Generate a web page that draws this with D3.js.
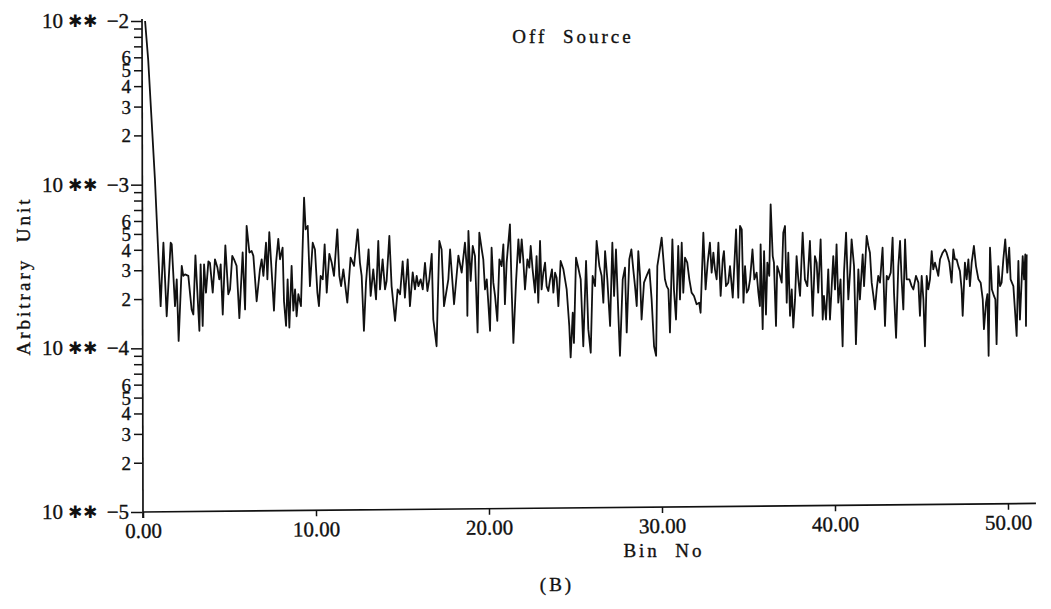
<!DOCTYPE html>
<html><head><meta charset="utf-8">
<script src="https://cdn.jsdelivr.net/npm/d3@7"></script>
<style>body{margin:0;background:#fff}svg{display:block}</style>
</head><body><svg id="c" width="1051" height="609"></svg>
<script>
// Bin positions of the trace vertices
const bins = [
0.12,0.30,0.69,
1.02,1.18,1.37,1.60,1.66,1.85,1.95,2.06,2.24,2.33,2.43,2.62,2.81,2.91,3.03,3.26,3.33,3.45,3.53,3.64,3.78,3.87,4.03,4.16,4.30,4.41,4.49,4.61,4.76,4.93,5.03,5.16,5.26,5.41,5.57,5.76,5.90,5.99,6.15,6.28,6.38,6.57,6.76,6.86,6.96,7.11,7.19,7.30,7.44,7.57,7.69,7.82,7.92,8.07,8.15,8.27,8.36,8.46,8.59,8.69,8.79,8.88,8.98,9.13,9.31,9.40,9.52,9.65,9.81,9.94,10.08,10.17,10.27,10.39,10.50,10.62,10.77,10.91,11.04,11.23,11.35,11.45,11.58,11.81,12.00,12.20,12.41,12.54,12.64,12.77,12.89,13.04,13.16,13.31,13.47,13.60,13.70,13.85,13.99,14.08,14.24,14.37,14.57,14.72,14.86,15.01,15.14,15.30,15.43,15.59,15.72,15.82,15.92,16.05,16.17,16.30,16.44,16.55,16.69,16.78,16.97,17.13,17.26,17.40,17.65,17.75,
17.98,18.23,18.42,18.61,18.71,18.75,18.81,18.94,19.06,19.19,19.34,19.44,19.58,19.67,19.77,19.87,19.96,20.06,20.15,20.25,20.35,20.48,20.60,20.73,20.83,20.92,21.02,21.21,21.31,21.41,21.56,21.70,21.79,21.89,21.98,22.08,22.22,22.33,22.41,22.52,22.66,22.75,22.85,22.95,23.04,23.14,23.24,23.33,23.43,23.53,23.64,23.72,23.82,23.91,24.01,24.14,24.30,24.49,24.64,24.72,24.84,24.91,25.03,25.16,25.30,25.45,25.61,25.74,25.88,25.99,26.13,26.22,26.38,26.51,26.61,26.71,26.84,27.00,27.13,27.23,27.34,27.48,27.57,27.73,27.86,27.96,28.11,28.23,28.34,28.44,28.54,28.63,28.73,28.82,28.96,29.11,29.27,29.40,29.54,29.66,29.73,29.85,29.98,30.08,30.17,30.27,30.37,30.46,30.60,30.69,30.81,30.94,31.04,31.14,31.23,31.33,31.46,31.58,31.71,31.85,32.00,32.15,32.23,32.39,32.52,32.64,32.77,32.87,32.97,33.06,33.16,33.26,33.39,33.51,33.58,33.70,33.83,33.93,34.09,34.16,34.28,34.41,34.51,34.61,34.71,34.80,34.90,35.00,35.09,35.23,35.34,35.47,35.57,35.66,
35.70,35.82,35.90,36.01,36.09,36.20,36.28,36.40,36.47,36.59,36.66,36.78,36.92,37.01,37.11,37.21,37.30,37.40,37.50,37.59,37.69,37.78,37.88,37.98,38.13,38.26,38.40,38.55,38.71,38.84,38.94,39.03,39.17,39.29,39.36,39.48,39.61,39.71,39.80,39.90,40.00,40.09,40.19,40.32,40.44,40.52,40.64,40.77,40.87,40.96,41.10,41.21,41.35,41.44,41.60,41.68,41.83,41.93,42.02,42.12,42.22,42.31,42.41,42.50,42.60,42.75,42.89,42.99,43.08,43.22,43.33,43.41,43.53,43.66,43.76,43.85,43.95,44.05,44.14,44.30,44.43,44.53,44.68,44.82,44.91,45.01,45.11,45.20,45.30,45.39,45.49,45.59,45.68,45.78,45.88,45.97,46.07,46.22,46.35,46.45,46.61,46.74,46.84,46.93,47.03,47.13,47.22,47.32,47.38,47.51,47.61,47.71,47.80,47.90,48.03,48.15,48.29,48.42,48.54,48.61,48.73,48.81,48.88,48.96,49.07,49.19,49.27,49.34,49.44,49.54,49.63,49.73,49.84,49.96,50.07,50.15,50.31,50.40,50.50,50.60,50.69,50.85,50.93,51.00,51.04,51.08
];
// Signal at those bins, in units of 1e-4 (arbitrary unit)
const signal = [
100,58,10.8,
1.81,4.42,1.57,4.42,4.32,1.81,2.64,1.11,3.19,2.77,2.83,2.77,1.73,1.61,3.70,1.28,3.26,1.37,3.26,2.19,3.40,3.33,2.19,3.50,3.12,2.64,3.26,1.61,4.26,2.14,2.29,3.67,3.50,3.19,1.53,3.85,1.73,5.6,3.85,3.93,3.67,1.94,3.04,3.50,2.77,4.42,2.64,5.13,2.91,1.70,3.33,4.67,3.50,4.12,1.94,1.37,2.64,1.34,3.19,1.70,2.29,1.57,2.14,1.81,8.33,5.33,5.6,2.40,4.42,4.02,2.19,1.81,2.77,2.64,4.32,2.19,3.78,3.33,2.77,5.33,2.77,2.40,3.04,1.90,3.58,3.19,5.33,3.33,2.77,1.28,2.52,4.02,2.09,3.04,1.99,4.53,2.29,3.50,2.29,2.58,4.87,2.40,1.47,2.29,2.14,3.40,2.04,3.50,1.81,2.91,2.29,2.77,2.40,2.64,2.29,3.33,2.24,2.64,3.78,1.50,1.03,4.53,4.02,1.81,2.64,4.02,
1.86,3.69,2.90,4.42,3.18,1.58,5.21,2.58,4.22,3.66,1.25,5.09,4.02,3.50,2.29,2.64,1.90,1.28,4.12,2.52,2.09,1.47,3.50,3.18,4.32,1.86,3.34,5.72,2.29,1.08,2.52,4.63,3.34,4.63,3.50,2.29,3.50,3.11,4.22,3.04,2.19,3.66,1.90,4.53,2.29,2.90,3.34,2.40,2.24,2.64,3.04,2.19,2.90,2.70,1.81,3.42,3.04,2.29,1.37,0.88,1.65,1.08,3.58,3.11,2.64,1.03,3.42,1.31,0.94,2.77,2.40,4.53,3.18,2.77,1.90,3.93,2.64,1.37,4.42,2.09,4.02,1.58,0.90,2.64,3.11,1.25,3.50,4.02,3.04,2.40,1.81,3.93,2.77,1.50,2.52,2.77,3.04,1.99,1.03,0.90,3.18,3.84,4.75,3.50,2.64,2.40,2.29,1.25,4.63,2.29,1.50,4.22,1.99,4.42,2.19,3.58,3.34,2.64,2.19,2.09,1.86,1.90,1.65,5.09,2.29,3.34,4.42,2.90,3.84,3.04,2.64,4.42,2.09,3.50,3.93,2.40,2.52,3.18,2.04,2.90,5.33,2.04,5.59,5.33,1.90,3.18,2.19,2.29,2.64,4.02,2.64,2.90,2.19,1.81,
4.32,1.31,3.93,1.61,3.34,2.77,7.58,3.66,3.34,1.37,3.18,2.90,2.52,5.09,5.59,1.90,3.84,1.58,2.29,1.34,1.99,3.66,2.64,2.09,5.09,2.64,2.40,4.53,1.58,3.66,3.34,2.19,4.63,1.50,2.09,1.50,3.04,1.50,2.29,3.66,2.29,4.32,1.90,2.64,1.03,2.90,5.09,1.99,2.90,4.63,3.18,1.06,3.04,1.99,3.75,2.40,4.86,4.22,3.84,2.52,2.09,1.73,2.29,2.77,2.52,4.12,1.37,2.77,2.64,2.90,4.75,2.19,1.16,3.18,4.53,2.64,1.73,4.63,2.64,2.64,2.40,2.29,2.77,2.52,1.58,2.77,1.99,1.03,2.77,2.29,2.64,3.93,3.04,3.34,3.04,2.77,3.50,3.84,4.02,3.84,3.34,2.52,4.02,3.50,3.50,3.18,2.97,2.29,1.58,3.34,2.64,3.50,2.40,3.34,4.22,3.18,2.64,2.52,1.99,1.31,1.90,2.14,0.90,4.12,2.29,2.09,1.99,1.06,3.18,2.40,2.52,3.50,4.63,2.90,4.12,2.64,2.40,1.73,1.19,3.42,1.50,3.66,2.64,3.75,1.37,3.75
];
const UNIT = 1e-4;
const xTicks = [0, 10, 20, 30, 40, 50];
const yDecades = [-5, -4, -3, -2];
const yMinorMultipliers = [2, 3, 4, 5, 6, 7, 8, 9];
const yMinorLabelled = [2, 3, 4, 5, 6];
const titleText = "Off  Source";
const xTitleText = "Bin  No";
const yTitleText = "Arbitrary  Unit";
const captionText = "(B)";

const FONT = "'Liberation Serif','Times New Roman',serif";
const svg = d3.select('#c');
const x = d3.scaleLinear().domain([0, 51.5]).range([143, 143 + 51.5 * 17.3]);
const y = d3.scaleLog().domain([1e-5, 1e-2]).range([512, 21]);
const ink = '#111';

function styleText(sel, size) {
  sel.attr('font-family', FONT).attr('font-size', size).attr('fill', ink)
     .attr('stroke', ink).attr('stroke-width', 0.35);
}

// trace
const pts = bins.map((b, i) => [b, signal[i] * UNIT]);
svg.append('path')
  .attr('d', d3.line().x(d => x(d[0])).y(d => y(d[1]))(pts))
  .attr('fill', 'none').attr('stroke', ink).attr('stroke-width', 1.8)
  .attr('stroke-linejoin', 'round');

// x axis (the scanned figure is tilted very slightly)
const xAxis = d3.axisBottom(x).tickValues(xTicks).tickFormat(d3.format('.2f'))
  .tickSize(6).tickSizeOuter(0).tickPadding(4);
const gxWrap = svg.append('g').attr('transform', 'rotate(-0.55,143,512)');
const gx = gxWrap.append('g').attr('transform', 'translate(0,512)').call(xAxis);
gx.select('.domain').remove();
gx.selectAll('line').attr('stroke', ink).attr('stroke-width', 1.5);
gx.selectAll('text').attr('dy', '0.76em').call(styleText, 21);
gxWrap.append('line').attr('x1', 143).attr('x2', 1036).attr('y1', 512).attr('y2', 512)
  .attr('stroke', ink).attr('stroke-width', 1.7);

// y axis: minor ticks
const minorVals = [];
yDecades.slice(0, -1).forEach(e => yMinorMultipliers.forEach(m => minorVals.push(m * Math.pow(10, e))));
const yMinor = d3.axisLeft(y).tickValues(minorVals)
  .tickFormat(d => {
    const m = Math.round(d / Math.pow(10, Math.floor(Math.log10(d) + 1e-9)));
    return yMinorLabelled.includes(m) ? String(m) : '';
  })
  .tickSize(8).tickSizeOuter(0).tickPadding(3);
const gyMinor = svg.append('g').attr('transform', 'translate(142,0)').call(yMinor);
gyMinor.select('.domain').remove();
gyMinor.selectAll('line').attr('stroke', ink).attr('stroke-width', 1.5);
gyMinor.selectAll('text').attr('dy', '0.34em').call(styleText, 19);

// y axis: decades
const yMajor = d3.axisLeft(y).tickValues(yDecades.map(e => Math.pow(10, e)))
  .tickFormat('').tickSize(11).tickSizeOuter(0);
const gyMajor = svg.append('g').attr('transform', 'translate(142,0)').call(yMajor);
gyMajor.select('.domain').remove();
gyMajor.selectAll('line').attr('stroke', ink).attr('stroke-width', 1.5);
svg.append('line').attr('x1', 142).attr('x2', 143).attr('y1', 19).attr('y2', 518)
  .attr('stroke', ink).attr('stroke-width', 1.7);

const decadeLabel = svg.append('g').selectAll('g').data(yDecades).join('g')
  .attr('transform', d => `translate(0,${y(Math.pow(10, d))})`);
decadeLabel.append('text').text('10').attr('x', 42).attr('dy', '0.34em').call(styleText, 21);
decadeLabel.append('text').text('\u2731').attr('x', 75).attr('dy', '0.36em')
  .attr('text-anchor', 'middle')
  .attr('font-family', "'DejaVu Sans',sans-serif").attr('font-size', 17).attr('fill', ink);
decadeLabel.append('text').text('\u2731').attr('x', 90).attr('dy', '0.36em')
  .attr('text-anchor', 'middle')
  .attr('font-family', "'DejaVu Sans',sans-serif").attr('font-size', 17).attr('fill', ink);
decadeLabel.append('text').text(d => '\u2212' + Math.abs(d)).attr('x', 129).attr('dy', '0.34em')
  .attr('text-anchor', 'end').call(styleText, 21);

// titles
svg.append('text').text(titleText).attr('x', 573).attr('y', 43).attr('text-anchor', 'middle')
  .style('white-space', 'pre').attr('letter-spacing', 3).call(styleText, 19);
svg.append('text').text(xTitleText).attr('x', 664).attr('y', 557).attr('text-anchor', 'middle')
  .style('white-space', 'pre').attr('letter-spacing', 3).call(styleText, 19);
svg.append('text').text(yTitleText)
  .attr('transform', 'translate(30,276) rotate(-90)').attr('text-anchor', 'middle')
  .style('white-space', 'pre').attr('letter-spacing', 3).call(styleText, 19);
svg.append('text').text(captionText).attr('x', 557).attr('y', 591).attr('text-anchor', 'middle')
  .attr('letter-spacing', 3).call(styleText, 19);
</script>
</body></html>
